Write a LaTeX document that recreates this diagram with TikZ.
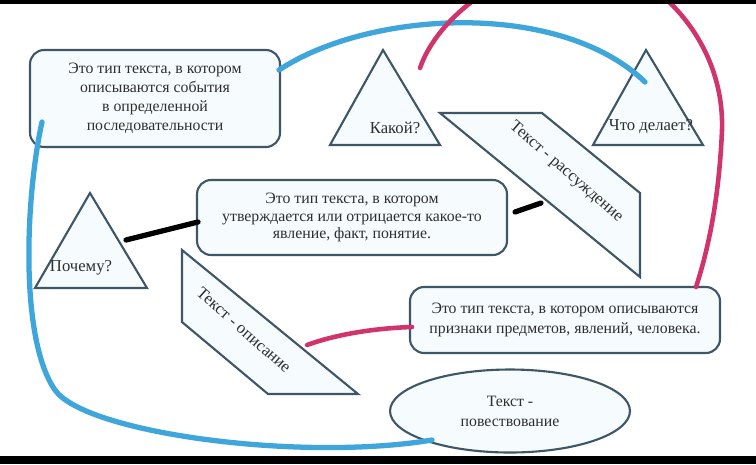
\documentclass[tikz,border=0pt]{standalone}
\usepackage{fontspec}
\setmainfont{Liberation Serif}
\usepackage{tikz}
\usetikzlibrary{shapes.geometric}
\definecolor{edgeslate}{HTML}{3E5666}
\definecolor{cardfill}{HTML}{F6FBFD}
\definecolor{penblue}{HTML}{3EA6DA}
\definecolor{penpink}{HTML}{D1346C}
\definecolor{inkgrey}{HTML}{2E2E2E}

\begin{document}
\begin{tikzpicture}[x=0.02cm,y=-0.02cm,
        card/.style={rectangle,draw=edgeslate,fill=cardfill,line width=1.2pt,
                     rounded corners=8pt,align=center,text=inkgrey,
                     font=\fontsize{9}{10.8}\selectfont},
        oval/.style={ellipse,draw=edgeslate,fill=cardfill,line width=1.2pt,
                     align=center,text=inkgrey,font=\fontsize{9}{11.5}\selectfont},
        tri/.style={draw=edgeslate,fill=cardfill,line width=1.2pt,line join=miter},
        txt/.style={inner sep=0pt,text=inkgrey,font=\fontsize{9.5}{11}\selectfont},
        blueline/.style={draw=penblue,line width=3pt,line cap=round},
        pinkline/.style={draw=penpink,line width=2.6pt,line cap=round},
        blackline/.style={draw=black,line width=3pt,line cap=round}]
      \useasboundingbox (0,0) rectangle (756,464);
      \fill[white] (0,0) rectangle (756,464);
      \begin{scope}
      \clip (0,0) rectangle (756,464);
      % rounded boxes and the oval
      \node[card,minimum width=5cm,minimum height=1.94cm] (narrbox) at (155,98.5)
        {Это тип текста, в котором\\описываются события\\в определенной\\последовательности};
      \node[card,minimum width=6.2cm,minimum height=1.5cm,
            font=\fontsize{9}{9.8}\selectfont] (argbox) at (352,217.5)
        {Это тип текста, в котором\\утверждается или отрицается какое-то\\явление, факт, понятие.};
      \node[card,minimum width=6.2cm,minimum height=1.32cm,
            font=\fontsize{9}{11.3}\selectfont] (descbox) at (565,320)
        {Это тип текста, в котором описываются\\признаки предметов, явлений, человека.};
      \node[oval,minimum width=4.8cm,minimum height=1.66cm] (narroval) at (510,411)
        {Текст -\\повествование};
      % triangles
      \coordinate (kTop) at (383,50);
      \coordinate (kLeft) at (330,145);
      \coordinate (kRight) at (440,145);
      \draw[tri] (kTop) -- (kRight) -- (kLeft) -- cycle;
      \node[txt] (kakoy) at (395,128) {Какой?};
      \coordinate (dTop) at (646,50);
      \coordinate (dLeft) at (593,145);
      \coordinate (dRight) at (703,145);
      \draw[tri] (dTop) -- (dRight) -- (dLeft) -- cycle;
      \node[txt] (chtodelaet) at (651,127) {Что делает?};
      \coordinate (pTop) at (90,193);
      \coordinate (pLeft) at (35,288);
      \coordinate (pRight) at (147,288);
      \draw[tri] (pTop) -- (pRight) -- (pLeft) -- cycle;
      \node[txt] (pochemu) at (81,268) {Почему?};
      % slanted slabs
      \coordinate (rA) at (440,113);
      \coordinate (rB) at (542,113);
      \coordinate (rC) at (640,193);
      \coordinate (rD) at (640,277);
      \draw[tri] (rA) -- (rB) -- (rC) -- (rD) -- cycle;
      \node[txt,rotate=-41] (rassuzh) at (566,172) {Текст - рассуждение};
      \coordinate (oA) at (182,250);
      \coordinate (oB) at (358,394);
      \coordinate (oC) at (268,394);
      \coordinate (oD) at (182,322);
      \draw[tri] (oA) -- (oB) -- (oC) -- (oD) -- cycle;
      \node[txt,rotate=-41.5] (opisanie) at (244,330) {Текст - описание};
      % hand-drawn links
      \coordinate (blueA) at (279,70);
      \coordinate (blueB) at (645,82);
      \coordinate (blueC) at (42,122);
      \coordinate (blueD) at (55,390);
      \coordinate (blueE) at (432,440);
      \draw[blueline] (blueA) .. controls (370,10) and (560,0) .. (blueB);
      \draw[blueline] (blueC) .. controls (25,200) and (20,340) .. (blueD)
        .. controls (85,433) and (300,462) .. (blueE);
      \coordinate (pinkA) at (420,68);
      \coordinate (pinkB) at (580,-40);
      \coordinate (pinkC) at (722,130);
      \coordinate (pinkD) at (696,287);
      \draw[pinkline] (pinkA) .. controls (440,10) and (520,-40) .. (pinkB)
        .. controls (640,-40) and (725,30) .. (pinkC)
        .. controls (719,200) and (708,250) .. (pinkD);
      \coordinate (pinkE) at (307,345);
      \coordinate (pinkF) at (412,327);
      \draw[pinkline] (pinkE) .. controls (340,333) and (380,328) .. (pinkF);
      \coordinate (blackA) at (126,240);
      \coordinate (blackB) at (198,222);
      \draw[blackline] (blackA) -- (blackB);
      \coordinate (blackC) at (515,212);
      \coordinate (blackD) at (541,203);
      \draw[blackline] (blackC) -- (blackD);
      \end{scope}
      % dark strips of the screenshot
      \fill[black] (0,0) rectangle (756,4);
      \fill[black] (0,456) rectangle (756,464);
    \end{tikzpicture}
\end{document}
